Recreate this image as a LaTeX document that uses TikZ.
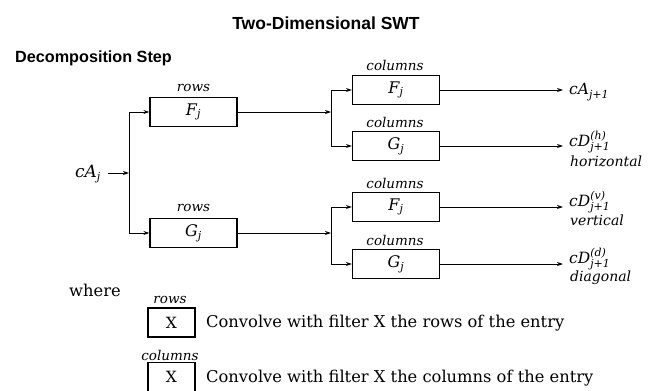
\documentclass[tikz,border=0pt]{standalone}
\usepackage{fontspec}
\setmainfont{DejaVu Serif}
\newfontfamily\headfont{Liberation Sans}
\usetikzlibrary{arrows.meta}
\newcommand\vit[1]{\mbox{\itshape #1}}
\newcommand\vsm[1]{\mbox{\fontsize{11}{11}\selectfont\itshape #1}}
\begin{document}
\begin{tikzpicture}[x=1pt,y=-1pt,
  fbox/.style={draw,line width=1.2pt,minimum width=87pt,minimum height=29pt,inner sep=0pt,font=\fontsize{16}{18}\selectfont},
  lbox/.style={draw,line width=1.2pt,minimum width=47pt,minimum height=29pt,inner sep=0pt,font=\fontsize{15.5}{18}\selectfont},
  toplab/.style={inner sep=0pt,font=\fontsize{13.5}{16}\selectfont\itshape},
  outlab/.style={anchor=west,inner sep=0pt,font=\fontsize{15.5}{18}\selectfont},
  dirlab/.style={anchor=west,inner sep=0pt,font=\fontsize{14}{16}\selectfont\itshape},
  body/.style={anchor=west,inner sep=0pt,font=\fontsize{16.3}{19}\selectfont},
  head/.style={inner sep=0pt,font=\fontsize{16.2}{19}\selectfont\headfont\bfseries},
  arr/.style={line width=0.9pt,-{Stealth[length=6pt,width=4pt]}},
  ln/.style={line width=0.9pt}]
\useasboundingbox (0,0) rectangle (662,391);
% headings
\node[head,font=\fontsize{17.5}{20}\selectfont\headfont\bfseries] (title) at (326,23) {Two-Dimensional SWT};
\node[head,anchor=west] (dec) at (15,58) {Decomposition Step};
% input
\node[inner sep=0pt,font=\fontsize{17}{20}\selectfont] (cA) at (88,174) {$\vit{cA}_{\vsm{j}}$};
\coordinate (s1) at (129,112);
\coordinate (s2) at (129,233);
\coordinate (sm) at (129,173);
\draw[ln] (s1) -- (s2);
\draw[arr] (108,173) -- (sm);
% row filters
\node[fbox] (rf) at (193.5,112) {$\vit{F}_{\vsm{j}}$};
\node[fbox] (rg) at (193.5,233) {$\vit{G}_{\vsm{j}}$};
\node[toplab] (rfl) at (193.5,88) {rows};
\node[toplab] (rgl) at (193.5,208) {rows};
\draw[arr] (s1) -- (rf.west);
\draw[arr] (s2) -- (rg.west);
% right spines
\coordinate (t1) at (331,90);
\coordinate (t2) at (331,146);
\coordinate (tm1) at (331,112);
\coordinate (u1) at (331,207);
\coordinate (u2) at (331,264);
\coordinate (um) at (331,233);
\draw[ln] (t1) -- (t2);
\draw[ln] (u1) -- (u2);
\draw[arr] (rf.east) -- (tm1);
\draw[arr] (rg.east) -- (um);
% column filters
\node[fbox] (c1) at (396,90) {$\vit{F}_{\vsm{j}}$};
\node[fbox] (c2) at (396,146) {$\vit{G}_{\vsm{j}}$};
\node[fbox] (c3) at (396,207) {$\vit{F}_{\vsm{j}}$};
\node[fbox] (c4) at (396,264) {$\vit{G}_{\vsm{j}}$};
\node[toplab] (c1l) at (395,65) {columns};
\node[toplab] (c2l) at (395,122) {columns};
\node[toplab] (c3l) at (395,183) {columns};
\node[toplab] (c4l) at (395,240) {columns};
\draw[arr] (t1) -- (c1.west);
\draw[arr] (t2) -- (c2.west);
\draw[arr] (u1) -- (c3.west);
\draw[arr] (u2) -- (c4.west);
% outputs
\coordinate (o1) at (563,90);
\coordinate (o2) at (563,146);
\coordinate (o3) at (563,207);
\coordinate (o4) at (563,264);
\draw[arr] (c1.east) -- (o1);
\draw[arr] (c2.east) -- (o2);
\draw[arr] (c3.east) -- (o3);
\draw[arr] (c4.east) -- (o4);
\node[outlab] (a1) at (569,92) {$\vit{cA}_{\vsm{j+1}}$};
\node[outlab] (d1) at (569,142) {$\vit{cD}_{\vsm{j+1}}^{\vsm{(h)}}$};
\node[dirlab] (d1l) at (570,161) {horizontal};
\node[outlab] (d2) at (569,202) {$\vit{cD}_{\vsm{j+1}}^{\vsm{(v)}}$};
\node[dirlab] (d2l) at (570,220) {vertical};
\node[outlab] (d3) at (569,259) {$\vit{cD}_{\vsm{j+1}}^{\vsm{(d)}}$};
\node[dirlab] (d3l) at (570,278) {diagonal};
% legend
\node[body,anchor=center] (wh) at (95,290) {where};
\node[lbox] (x1) at (171.5,322.5) {X};
\node[lbox] (x2) at (171.5,377) {X};
\node[toplab] (x1l) at (170,300) {rows};
\node[toplab] (x2l) at (170,355) {columns};
\node[body] (e1) at (206,323) {Convolve with filter X the rows of the entry};
\node[body] (e2) at (206,378) {Convolve with filter X the columns of the entry};
\end{tikzpicture}
\end{document}
